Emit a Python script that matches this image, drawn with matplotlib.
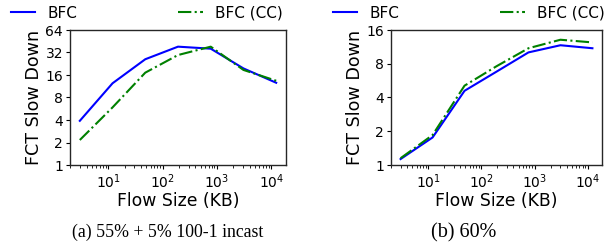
import matplotlib
matplotlib.use("Agg")
import matplotlib.pyplot as plt
from matplotlib.ticker import FixedLocator, FixedFormatter, LogLocator, NullFormatter

# Data
flow_sizes = [3, 12, 48, 192, 768, 3072, 12288]
a_bfc = [3.9, 12.4, 26.0, 38.3, 36.0, 19.6, 12.6]
a_bfc_cc = [2.16, 5.9, 17.2, 29.6, 38.3, 18.7, 13.4]
b_bfc = [1.13, 1.76, 4.59, 6.8, 10.1, 11.7, 11.0]
b_bfc_cc = [1.15, 1.85, 5.1, 7.6, 11.0, 13.1, 12.4]
a_yticks = [1, 2, 4, 8, 16, 32, 64]
b_yticks = [1, 2, 4, 8, 16]
captions = ["(a) 55% + 5% 100-1 incast", "(b) 60%"]
labels = ["BFC", "BFC (CC)"]

W, H = 608, 243
fig = plt.figure(figsize=(W / 100, H / 100), dpi=100)

def px_rect(x0, x1, y0, y1):
    return [x0 / W, 1 - y1 / H, (x1 - x0) / W, (y1 - y0) / H]

axA = fig.add_axes(px_rect(70, 286, 30, 165))
axB = fig.add_axes(px_rect(391, 602, 30, 165))

panels = [
    (axA, a_bfc, a_bfc_cc, a_yticks, 64),
    (axB, b_bfc, b_bfc_cc, b_yticks, 16),
]

for ax, y1, y2, yt, ymax in panels:
    l1, = ax.plot(flow_sizes, y1, color="#0000ff", lw=1.5, label=labels[0])
    l2, = ax.plot(flow_sizes, y2, color="#008000", lw=1.5, ls="-.", label=labels[1])
    ax.set_xscale("log")
    ax.set_yscale("log", base=2)
    ax.set_ylim(1, ymax)
    ax.yaxis.set_major_locator(FixedLocator(yt))
    ax.yaxis.set_major_formatter(FixedFormatter([str(v) for v in yt]))
    ax.yaxis.set_minor_locator(FixedLocator([]))
    ax.xaxis.set_major_locator(FixedLocator([10, 100, 1000, 10000]))
    ax.xaxis.set_major_formatter(FixedFormatter([r"$10^{1}$", r"$10^{2}$", r"$10^{3}$", r"$10^{4}$"]))
    ax.xaxis.set_minor_locator(LogLocator(base=10, subs=range(2, 10), numticks=20))
    ax.xaxis.set_minor_formatter(NullFormatter())
    ax.tick_params(axis="both", which="major", labelsize=10, length=3, width=0.8, pad=2)
    ax.tick_params(axis="x", which="minor", length=2, width=0.6)
    for s in ax.spines.values():
        s.set_linewidth(1.0)
        s.set_color("0.15")
    ax.set_xlabel("Flow Size (KB)", fontsize=12.4, labelpad=1)
    ax.set_ylabel("FCT Slow Down", fontsize=12.6, labelpad=2)
    ax.legend(handles=[l1, l2], ncol=2, loc="center left", frameon=False,
              fontsize=11, handlelength=1.6, handletextpad=0.8, columnspacing=6.6,
              borderpad=0, borderaxespad=0,
              bbox_to_anchor=((11 if ax is axA else 333) / W, 1 - 13 / H),
              bbox_transform=fig.transFigure)

fig.text(167.5 / W, 1 - 237 / H, captions[0], ha="center", va="baseline",
         fontsize=12.8, family="Liberation Serif")
fig.text(463.5 / W, 1 - 237 / H, captions[1], ha="center", va="baseline",
         fontsize=14.5, family="Liberation Serif")

fig.savefig("out.png", dpi=100)
